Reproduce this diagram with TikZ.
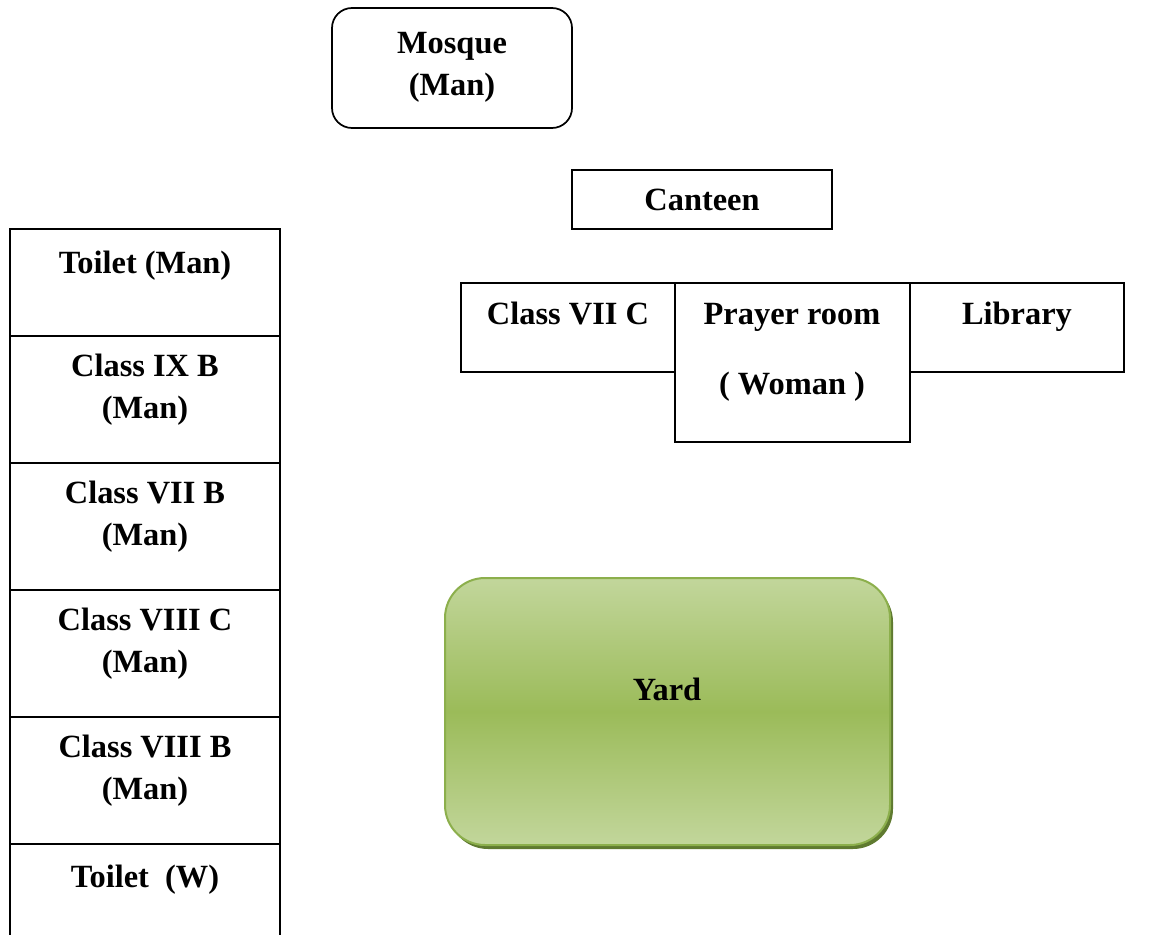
\documentclass[tikz,border=0pt]{standalone}
\usepackage{fontspec}
\setmainfont{Liberation Serif}
\definecolor{yardlight}{HTML}{C2D69B}
\definecolor{yardmid}{HTML}{9BBB59}
\definecolor{yardedge}{HTML}{8CAF4C}
\definecolor{yardshadow}{HTML}{5F7A30}
\begin{document}
\begin{tikzpicture}[x=0.75pt,y=-0.75pt,
  lbl/.style={font=\fontsize{24.3}{29}\selectfont\bfseries,anchor=base,inner sep=0pt},
  line width=1.3pt]
\useasboundingbox (0,0) rectangle (1153,935);
% Mosque
\draw[rounded corners=15pt] (332,8) rectangle (572,128);
\node[lbl] (mosque) at (452,53) {Mosque};
\node[lbl] (mosqueman) at (452,95) {(Man)};
% Canteen
\draw (572,170) rectangle (832,229);
\node[lbl] (canteen) at (702,210) {Canteen};
% Left column
\draw (10,935) -- (10,229) -- (280,229) -- (280,935);
\foreach \yy in {336,463,590,717,844} \draw (10,\yy) -- (280,\yy);
\node[lbl] (toiletman) at (145,273) {Toilet (Man)};
\node[lbl] (ixb) at (145,376) {Class IX B};
\node[lbl] (ixbm) at (145,418) {(Man)};
\node[lbl] (viib) at (145,503) {Class VII B};
\node[lbl] (viibm) at (145,545) {(Man)};
\node[lbl] (viiic) at (145,630) {Class VIII C};
\node[lbl] (viiicm) at (145,672) {(Man)};
\node[lbl] (viiib) at (145,757) {Class VIII B};
\node[lbl] (viiibm) at (145,799) {(Man)};
\node[lbl] (toiletw) at (145,887) {Toilet\ \ (W)};
% Row
\draw (461,283) rectangle (675,372);
\draw (675,283) rectangle (910,442);
\draw (910,283) rectangle (1124,372);
\node[lbl] (viic) at (568,324) {Class VII C};
\node[lbl] (prayer) at (792,324) {Prayer room};
\node[lbl] (woman) at (792,394) {( Woman )};
\node[lbl] (library) at (1017,324) {Library};
% Yard
\fill[yardshadow,rounded corners=30pt] (448,582) rectangle (893,849);
\shade[rounded corners=30pt,top color=yardlight,bottom color=yardlight,middle color=yardmid,draw=yardedge,line width=1.5pt] (445,578) rectangle (890,845);
\node[lbl] (yard) at (667,700) {Yard};
\end{tikzpicture}
\end{document}
